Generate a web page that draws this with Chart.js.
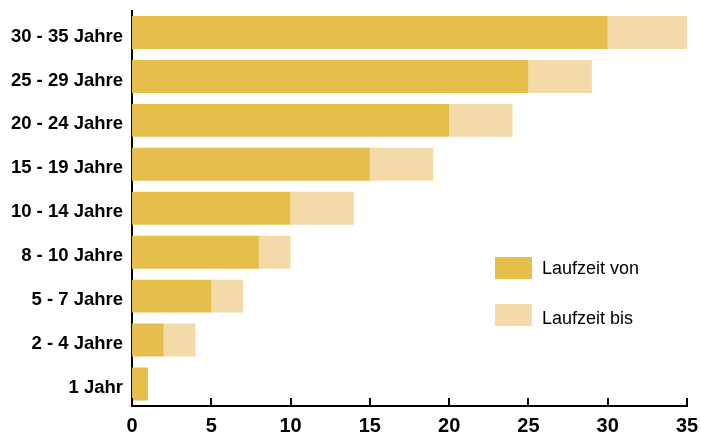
<!DOCTYPE html>
<html>
<head>
<meta charset="utf-8">
<script src="https://cdn.jsdelivr.net/npm/chart.js@4"></script>
<style>
  html, body { margin: 0; padding: 0; background: #fff; }
  #wrap { width: 701px; height: 432px; }
</style>
</head>
<body>
<div id="wrap"><canvas id="chart" width="701" height="432"></canvas></div>
<script>
const categories = ["30 - 35 Jahre", "25 - 29 Jahre", "20 - 24 Jahre", "15 - 19 Jahre",
    "10 - 14 Jahre", "8 - 10 Jahre", "5 - 7 Jahre", "2 - 4 Jahre", "1 Jahr"];
// start of the term (dark part) and the extra range up to the end (light part)
const laufzeitVon = [30, 25, 20, 15, 10, 8, 5, 2, 1];
const laufzeitBis = [5, 4, 4, 4, 4, 2, 2, 2, 0];
const xTicks = [0, 5, 10, 15, 20, 25, 30, 35];

const darkColor = "#E6BE4C";
const lightColor = "#F2DBA8";

// Tick marks on the x axis point up into the plot, so draw them by hand
const innerTicks = {
    id: "innerTicks",
    afterDatasetsDraw(chart) {
        const ctx = chart.ctx;
        const x = chart.scales.x;
        const bottom = chart.chartArea.bottom;
        ctx.save();
        ctx.strokeStyle = "#000";
        ctx.lineWidth = 2;
        xTicks.forEach(v => {
            const px = Math.round(x.getPixelForValue(v));
            ctx.beginPath();
            ctx.moveTo(px, bottom);
            ctx.lineTo(px, bottom - 8);
            ctx.stroke();
        });
        // redraw the axis line on top of the bars at the bottom
        ctx.beginPath();
        ctx.moveTo(chart.chartArea.left - 1, bottom);
        ctx.lineTo(chart.chartArea.right + 1, bottom);
        ctx.stroke();
        ctx.restore();
    }
};

// Legend sits inside the plot, lower right
const innerLegend = {
    id: "innerLegend",
    afterDraw(chart) {
        const ctx = chart.ctx;
        const items = [
            { label: "Laufzeit von", color: darkColor, y: 257, ty: 269 },
            { label: "Laufzeit bis", color: lightColor, y: 304, ty: 319 }
        ];
        ctx.save();
        ctx.font = "18px 'Liberation Sans', Arial, sans-serif";
        ctx.textBaseline = "middle";
        ctx.textAlign = "left";
        ctx.fillStyle = "#000";
        items.forEach(it => {
            ctx.fillStyle = it.color;
            ctx.fillRect(495, it.y, 37, 22);
            ctx.fillStyle = "#000";
            ctx.fillText(it.label, 542, it.ty);
        });
        ctx.restore();
    }
};

new Chart(document.getElementById("chart"), {
    type: "bar",
    data: {
        labels: categories,
        datasets: [
            {
                label: "Laufzeit von",
                data: laufzeitVon,
                backgroundColor: darkColor,
                borderWidth: 0
            },
            {
                label: "Laufzeit bis",
                data: laufzeitBis,
                backgroundColor: lightColor,
                borderWidth: 0
            }
        ]
    },
    options: {
        indexAxis: "y",
        responsive: false,
        animation: false,
        layout: { padding: { top: 10.5, right: 14, left: 0, bottom: 0 } },
        categoryPercentage: 1,
        barPercentage: 0.75,
        plugins: {
            legend: { display: false },
            tooltip: { enabled: false }
        },
        scales: {
            x: {
                stacked: true,
                min: 0,
                max: 35,
                afterBuildTicks: axis => { axis.ticks = xTicks.map(v => ({ value: v })); },
                grid: { display: false, drawTicks: false },
                border: { display: true, color: "#000", width: 2 },
                ticks: {
                    color: "#000",
                    padding: 8,
                    font: { family: "'Liberation Sans', Arial, sans-serif", size: 20, weight: "bold" }
                },
                afterFit: axis => {
                    axis.height = 26;
                    axis.paddingLeft = 0;
                    axis.paddingRight = 0;
                }
            },
            y: {
                stacked: true,
                grid: { display: false, drawTicks: false },
                border: { display: true, color: "#000", width: 2 },
                ticks: {
                    color: "#000",
                    padding: 9,
                    labelOffset: 4,
                    font: { family: "'Liberation Sans', Arial, sans-serif", size: 18.5, weight: "bold" }
                },
                afterFit: axis => {
                    axis.width = 132;
                    axis.paddingTop = 0;
                    axis.paddingBottom = 0;
                }
            }
        }
    },
    plugins: [innerTicks, innerLegend]
});
</script>
</body>
</html>
